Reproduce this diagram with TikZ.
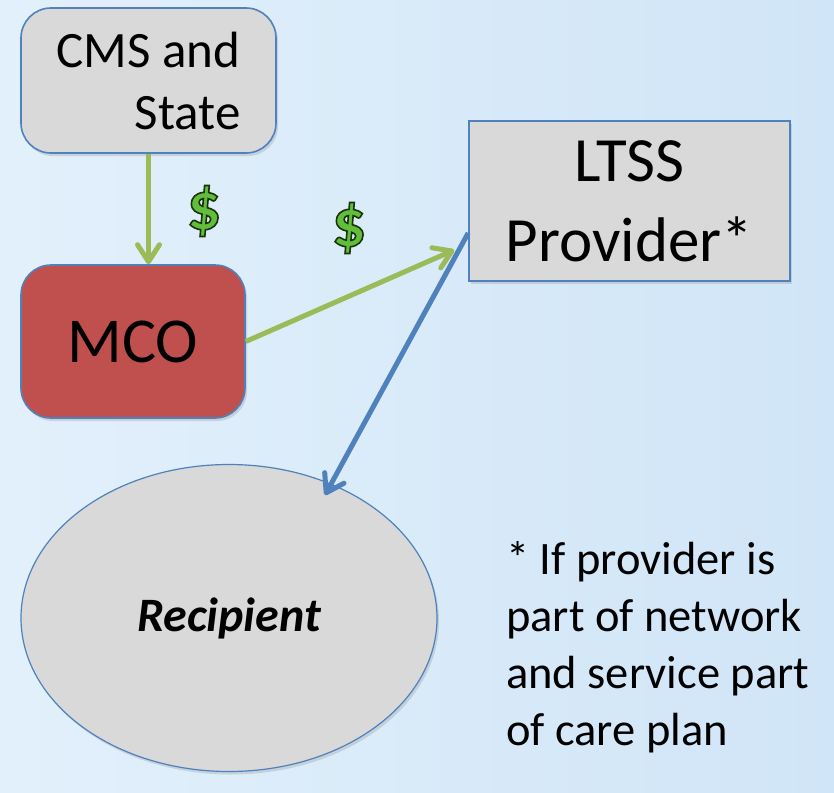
\documentclass[tikz,border=0pt]{standalone}
\usepackage{fontspec}
\setmainfont{Carlito}
\usetikzlibrary{positioning, arrows.meta, shapes.geometric, shadows}

\definecolor{boxgray}{HTML}{D9D9D9}
\definecolor{edgeblue}{HTML}{4F81BD}
\definecolor{mcored}{HTML}{C0504D}
\definecolor{moneygreen}{HTML}{9BBB59}
\definecolor{dollargreen}{HTML}{62BD3A}
\definecolor{bgleft}{HTML}{E2F0FB}
\definecolor{bgright}{HTML}{D0E5F7}

\newcommand{\outlined}[1]{\special{pdf:literal 2 Tr 1.6 w 0.1 0.2 0.05 RG}#1\special{pdf:literal 0 Tr}}

\begin{document}
\begin{tikzpicture}
	[x=1pt, y=-1pt,
	 box/.style={draw=edgeblue, line width=1.6pt, fill=boxgray, inner sep=0pt,
	   drop shadow={opacity=0.25, shadow xshift=2pt, shadow yshift=-3pt}},
	 money/.style={-{Straight Barb[length=17pt,width=22pt,line width=5pt,round]}, draw=moneygreen, line width=5pt},
	 care/.style={-{Straight Barb[length=17pt,width=22pt,line width=5pt,round]}, draw=edgeblue, line width=5pt},
	 dollar/.style={text=dollargreen, font=\fontsize{68}{80}\selectfont\bfseries}]
   \shade[left color=bgleft, right color=bgright] (0,0) rectangle (834,792);
   \useasboundingbox (0,0) rectangle (834,792);
   \node[box, rounded corners=30pt, minimum width=255pt, minimum height=145pt,
     align=right, font=\fontsize{51}{62}\selectfont] (cms) at (148.5,80.5) {CMS and\\State};
   \node[box, fill=mcored, rounded corners=30pt, minimum width=224pt, minimum height=153pt,
     font=\fontsize{64}{78}\selectfont] (mco) at (133,341.5) {MCO};
   \node[box, minimum width=321pt, minimum height=160pt, align=center,
     font=\fontsize{63}{80}\selectfont] (ltss) at (629.5,201) {LTSS\\Provider*};
   \node[box, ellipse, line width=1.2pt, minimum width=416pt, minimum height=307pt,
     font=\fontsize{48}{58}\selectfont\bfseries\itshape] (rec) at (229,618) {Recipient};
   \node[align=left, anchor=north west, inner sep=0pt,
     font=\fontsize{46.5}{57}\selectfont] (note) at (506,541)
     {* If provider is\\part of network\\and service part\\of care plan};
   \node[dollar] (d1) at (204,211) {\outlined{\$}};
   \node[dollar] (d2) at (349,228) {\outlined{\$}};
   \coordinate (ltssin) at ([xshift=-14pt, yshift=-49pt]ltss.west);
   \coordinate (ltssout) at ([yshift=-32pt]ltss.west);
   \coordinate (recin) at ([xshift=96pt, yshift=123pt]rec.center);
    \path
    (cms.south) edge [money] (cms.south |- mco.north)
    (mco.east) edge [money] (ltssin)
    (ltssout) edge [care] (recin);
\end{tikzpicture}
\end{document}
